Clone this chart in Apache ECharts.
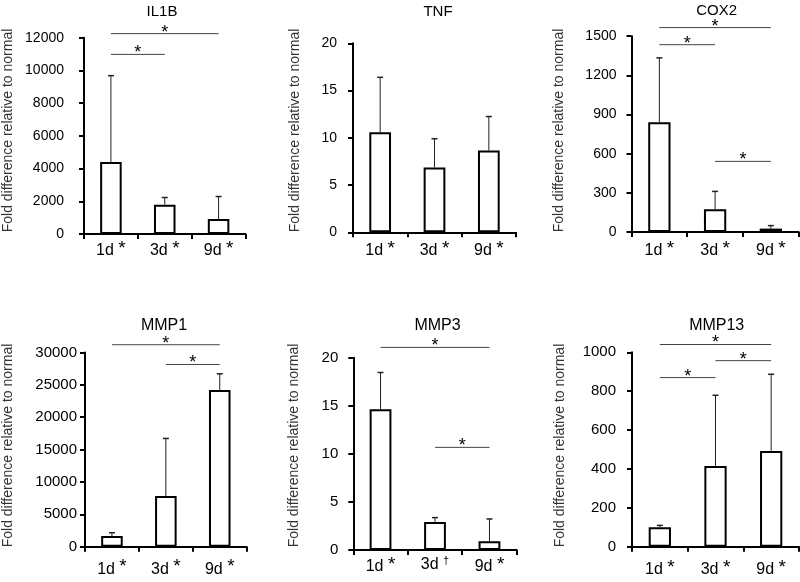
<!DOCTYPE html>
<html><head><meta charset="utf-8">
<script src="https://cdn.jsdelivr.net/npm/echarts@6/dist/echarts.min.js"></script>
<style>html,body{margin:0;padding:0;background:#fff}#c{width:800px;height:582px}</style>
</head><body><div id="c"></div>
<script>
// ---------- data ----------
const categories = ['1d', '3d', '9d'];
const titles = ['IL1B', 'TNF', 'COX2', 'MMP1', 'MMP3', 'MMP13'];
const yAxisName = 'Fold difference relative to normal';

const il1bMean = [4400, 1790, 920];
const il1bSd   = [5280, 440, 1370];
const tnfMean  = [10.6, 6.85, 8.65];
const tnfSd    = [5.8, 3.05, 3.6];
const cox2Mean = [841, 174, 26];
const cox2Sd   = [493, 137, 23];
const mmp1Mean = [1650, 7820, 24190];
const mmp1Sd   = [510, 8900, 2520];
const mmp3Mean = [14.65, 2.92, 0.9];
const mmp3Sd   = [3.82, 0.45, 2.33];
const mmp13Mean = [101, 416, 493];
const mmp13Sd   = [9, 363, 394];

const yMaxes    = [12000, 20, 1500, 30000, 20, 1000];
const yIntervals = [2000, 5, 300, 5000, 5, 200];

const il1bMarks  = ['*', '*', '*'];
const tnfMarks   = ['*', '*', '*'];
const cox2Marks  = ['*', '*', '*'];
const mmp1Marks  = ['*', '*', '*'];
const mmp3Marks  = ['*', '\u2020', '*'];
const mmp13Marks = ['*', '*', '*'];

// significance brackets: [fromIndex, toIndex, level]
const il1bSig  = [[0, 2, 12250], [0, 1, 10980]];
const tnfSig   = [];
const cox2Sig  = [[0, 2, 1566], [0, 1, 1435], [1, 2, 541]];
const mmp1Sig  = [[0, 2, 31200], [1, 2, 28150]];
const mmp3Sig  = [[0, 2, 21.08], [1, 2, 10.68]];
const mmp13Sig = [[0, 2, 1040], [1, 2, 957], [0, 1, 870]];

const means = [il1bMean, tnfMean, cox2Mean, mmp1Mean, mmp3Mean, mmp13Mean];
const sds   = [il1bSd, tnfSd, cox2Sd, mmp1Sd, mmp3Sd, mmp13Sd];
const marks = [il1bMarks, tnfMarks, cox2Marks, mmp1Marks, mmp3Marks, mmp13Marks];
const sigs  = [il1bSig, tnfSig, cox2Sig, mmp1Sig, mmp3Sig, mmp13Sig];

// ---------- layout (styling only) ----------
const FONT = '"Liberation Sans", Arial, Helvetica, sans-serif';
const layout = [
  {l: 82.7, r: 245.5, t: 37.7, b: 234,  ylm: 20, xlm: 5,  gap: 69, pad: 10.7, tx: 162,   ty: 12,  ts: 15, yls: 14},
  {l: 353,  r: 516,   t: 43.3, b: 232.3, ylm: 16, xlm: 7,  gap: 51, pad: 14.6, tx: 438,   ty: 12,  ts: 15, yls: 14},
  {l: 631.5,r: 798.7, t: 36.2, b: 232,  ylm: 15, xlm: 7,  gap: 65, pad: 7.2,  tx: 716.7, ty: 11,  ts: 15, yls: 14},
  {l: 83.3, r: 246.7, t: 352.5,b: 546.7, ylm: 8,  xlm: 11, gap: 70, pad: 8.2,  tx: 164,   ty: 326, ts: 16, yls: 15},
  {l: 353.3,r: 516.7, t: 357.8,b: 550,  ylm: 15, xlm: 5,  gap: 52, pad: 16.8, tx: 437.5, ty: 325.5, ts: 16, yls: 15},
  {l: 632,  r: 799,   t: 352.3,b: 546.8, ylm: 16, xlm: 11, gap: 65, pad: 8,    tx: 716.7, ty: 326, ts: 16, yls: 15}
];

const grids = [], xAxes = [], yAxes = [], series = [], graphics = [];

layout.forEach((L, i) => {
  grids.push({left: L.l, top: L.t, width: L.r - L.l, height: L.b - L.t, containLabel: false});
  const mk = marks[i];
  xAxes.push({
    gridIndex: i, type: 'category', data: categories,
    axisLine: {lineStyle: {color: '#000', width: 2}},
    axisTick: {show: true, interval: 0, length: 5, lineStyle: {color: '#000', width: 2}},
    splitLine: {show: false},
    axisLabel: {
      interval: 0, hideOverlap: false,
      margin: L.xlm, color: '#000', fontSize: 16, fontFamily: FONT,
      formatter: (v, idx) => v + ' ' + (mk[idx] === '*' ? '{s|*}' : '{d|' + mk[idx] + '}'),
      rich: {
        s: {fontSize: 19, fontFamily: FONT, color: '#000', padding: [0, 0, 4, 0]},
        d: {fontSize: 11, fontFamily: FONT, color: '#000', padding: [0, 0, 8, 0]}
      }
    }
  });
  yAxes.push({
    gridIndex: i, type: 'value', min: 0, max: yMaxes[i], interval: yIntervals[i],
    axisLine: {show: true, lineStyle: {color: '#000', width: 2}},
    axisTick: {show: true, length: 5, lineStyle: {color: '#000', width: 2}},
    splitLine: {show: false},
    axisLabel: {margin: L.ylm, color: '#000', fontSize: L.yls, fontFamily: FONT, formatter: v => String(v)},
    name: yAxisName, nameLocation: 'middle', nameGap: L.gap, nameRotate: 90,
    nameTextStyle: {fontSize: 14, color: '#333', fontFamily: FONT, padding: [0, 0, 0, L.pad]}
  });
  series.push({
    type: 'bar', xAxisIndex: i, yAxisIndex: i, data: means[i], barWidth: '40%',
    itemStyle: {color: '#fff', borderColor: '#000', borderWidth: 2},
    silent: true, z: 2
  });
  series.push({
    type: 'custom', xAxisIndex: i, yAxisIndex: i, z: 3, silent: true,
    data: means[i].map((m, k) => [k, m, m + sds[i][k]]),
    encode: {x: 0, y: [1, 2]},
    renderItem: (params, api) => {
      const base = api.coord([api.value(0), api.value(1)]);
      const top = api.coord([api.value(0), api.value(2)]);
      const hw = 3;
      return {type: 'group', children: [
        {type: 'line', shape: {x1: base[0], y1: base[1], x2: top[0], y2: top[1]}, style: {stroke: '#222', lineWidth: 1}},
        {type: 'line', shape: {x1: top[0] - hw, y1: top[1], x2: top[0] + hw, y2: top[1]}, style: {stroke: '#222', lineWidth: 1.5}}
      ]};
    }
  });
  if (sigs[i].length) {
    series.push({
      type: 'custom', xAxisIndex: i, yAxisIndex: i, z: 4, silent: true, clip: false,
      data: sigs[i],
      encode: {x: [0, 1], y: 2},
      renderItem: (params, api) => {
        const a = api.coord([api.value(0), api.value(2)]);
        const b = api.coord([api.value(1), api.value(2)]);
        return {type: 'group', children: [
          {type: 'line', shape: {x1: a[0], y1: a[1], x2: b[0], y2: b[1]}, style: {stroke: '#444', lineWidth: 1}},
          {type: 'text', style: {text: '*', x: (a[0] + b[0]) / 2, y: a[1] - 1, align: 'center', verticalAlign: 'middle',
            fontSize: 18, fontFamily: FONT, fill: '#000'}}
        ]};
      }
    });
  }
  graphics.push({
    type: 'text', x: L.tx, y: L.ty,
    style: {text: titles[i], align: 'center', verticalAlign: 'middle', fontSize: L.ts, fontFamily: FONT, fill: '#000'}
  });
});

const chart = echarts.init(document.getElementById('c'), null, {renderer: 'canvas'});
chart.setOption({
  animation: false,
  backgroundColor: '#fff',
  grid: grids, xAxis: xAxes, yAxis: yAxes, series: series,
  graphic: graphics
});
</script>
</body></html>
